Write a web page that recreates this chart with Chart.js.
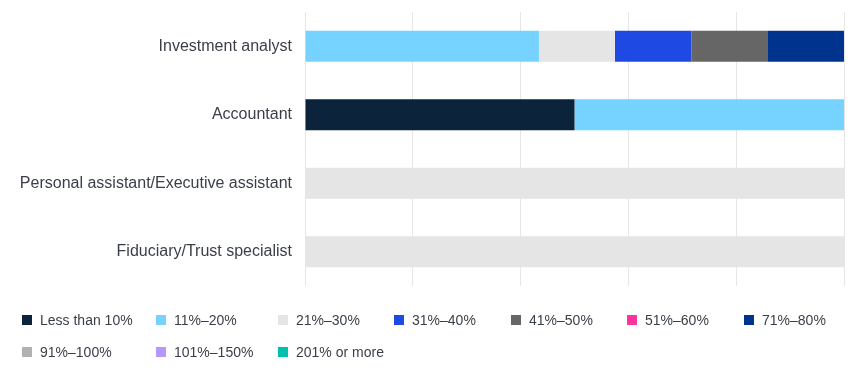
<!DOCTYPE html>
<html>
<head>
<meta charset="utf-8">
<script src="https://cdn.jsdelivr.net/npm/chart.js@4/dist/chart.umd.min.js"></script>
<style>
  html, body { margin: 0; padding: 0; background: #fff; }
  #wrap { position: relative; width: 852px; height: 381px; overflow: hidden; }
  #chartBox { position: absolute; left: 0; top: 0; width: 852px; height: 286px; }
  #legend { position: absolute; left: 0; top: 0; width: 852px; height: 381px; pointer-events: none;
    font-family: "Liberation Sans", Arial, sans-serif; font-size: 14px; color: #3a3f47; }
  .li { position: absolute; white-space: nowrap; line-height: 16px; }
  .sw { position: absolute; width: 10px; height: 10px; left: 0; top: 3px; }
  .tx { position: absolute; left: 18px; top: 0; }
</style>
</head>
<body>
<div id="wrap">
  <div id="chartBox"><canvas id="c"></canvas></div>
  <div id="legend"></div>
</div>
<script>
const categories = ["Investment analyst", "Accountant", "Personal assistant/Executive assistant", "Fiduciary/Trust specialist"];
const seriesNames = ["Less than 10%", "11%–20%", "21%–30%", "31%–40%", "41%–50%", "51%–60%", "71%–80%", "91%–100%", "101%–150%", "201% or more"];
const seriesColors = ["#0C233C", "#76D2FF", "#E5E5E5", "#1E49E2", "#666666", "#FD349C", "#00338D", "#B2B2B2", "#B497FF", "#00C0AE"];
const lessThan10 = [0, 50, 0, 0];
const pct11to20 = [43.4, 50, 0, 0];
const pct21to30 = [14.1, 0, 100, 100];
const pct31to40 = [14.2, 0, 0, 0];
const pct41to50 = [14.2, 0, 0, 0];
const pct51to60 = [0, 0, 0, 0];
const pct71to80 = [14.1, 0, 0, 0];
const pct91to100 = [0, 0, 0, 0];
const pct101to150 = [0, 0, 0, 0];
const pct201plus = [0, 0, 0, 0];
const seriesValues = [lessThan10, pct11to20, pct21to30, pct31to40, pct41to50, pct51to60, pct71to80, pct91to100, pct101to150, pct201plus];
const xTicks = [0, 20, 40, 60, 80, 100];

const datasets = seriesNames.map((n, i) => ({
  label: n,
  data: seriesValues[i],
  backgroundColor: seriesColors[i],
  borderWidth: 0,
  barPercentage: 0.45,
  categoryPercentage: 1.0
}));

new Chart(document.getElementById('c'), {
  type: 'bar',
  data: { labels: categories, datasets },
  options: {
    indexAxis: 'y',
    responsive: true,
    maintainAspectRatio: false,
    animation: false,
    layout: { padding: { top: 12, right: 8, bottom: 0, left: 0 } },
    plugins: { legend: { display: false }, tooltip: { enabled: false } },
    scales: {
      x: {
        stacked: true, min: 0, max: 100,
        afterBuildTicks: (s) => { s.ticks = xTicks.map(v => ({ value: v })); },
        afterFit: (s) => { s.paddingLeft = 0; s.paddingRight = 0; s.height = 0; },
        ticks: { display: false },
        grid: { color: '#e6e6e6', drawTicks: false, lineWidth: 1 },
        border: { display: false }
      },
      y: {
        stacked: true,
        afterFit: (s) => { s.width = 305; s.paddingTop = 0; s.paddingBottom = 0; },
        ticks: { color: '#3a3f47', font: { family: '"Liberation Sans", Arial, sans-serif', size: 16 }, padding: 13 },
        grid: { display: false, drawTicks: false },
        border: { display: false }
      }
    }
  }
});

// HTML legend built from the series arrays
const legendPos = [
  [22, 312], [156, 312], [278, 312], [394, 312], [511, 312], [627, 312], [744, 312],
  [22, 344], [156, 344], [278, 344]
];
const lg = document.getElementById('legend');
seriesNames.forEach((n, i) => {
  const d = document.createElement('div');
  d.className = 'li';
  d.style.left = legendPos[i][0] + 'px';
  d.style.top = legendPos[i][1] + 'px';
  d.innerHTML = '<span class="sw" style="background:' + seriesColors[i] + '"></span><span class="tx">' + n + '</span>';
  lg.appendChild(d);
});
</script>
</body>
</html>
